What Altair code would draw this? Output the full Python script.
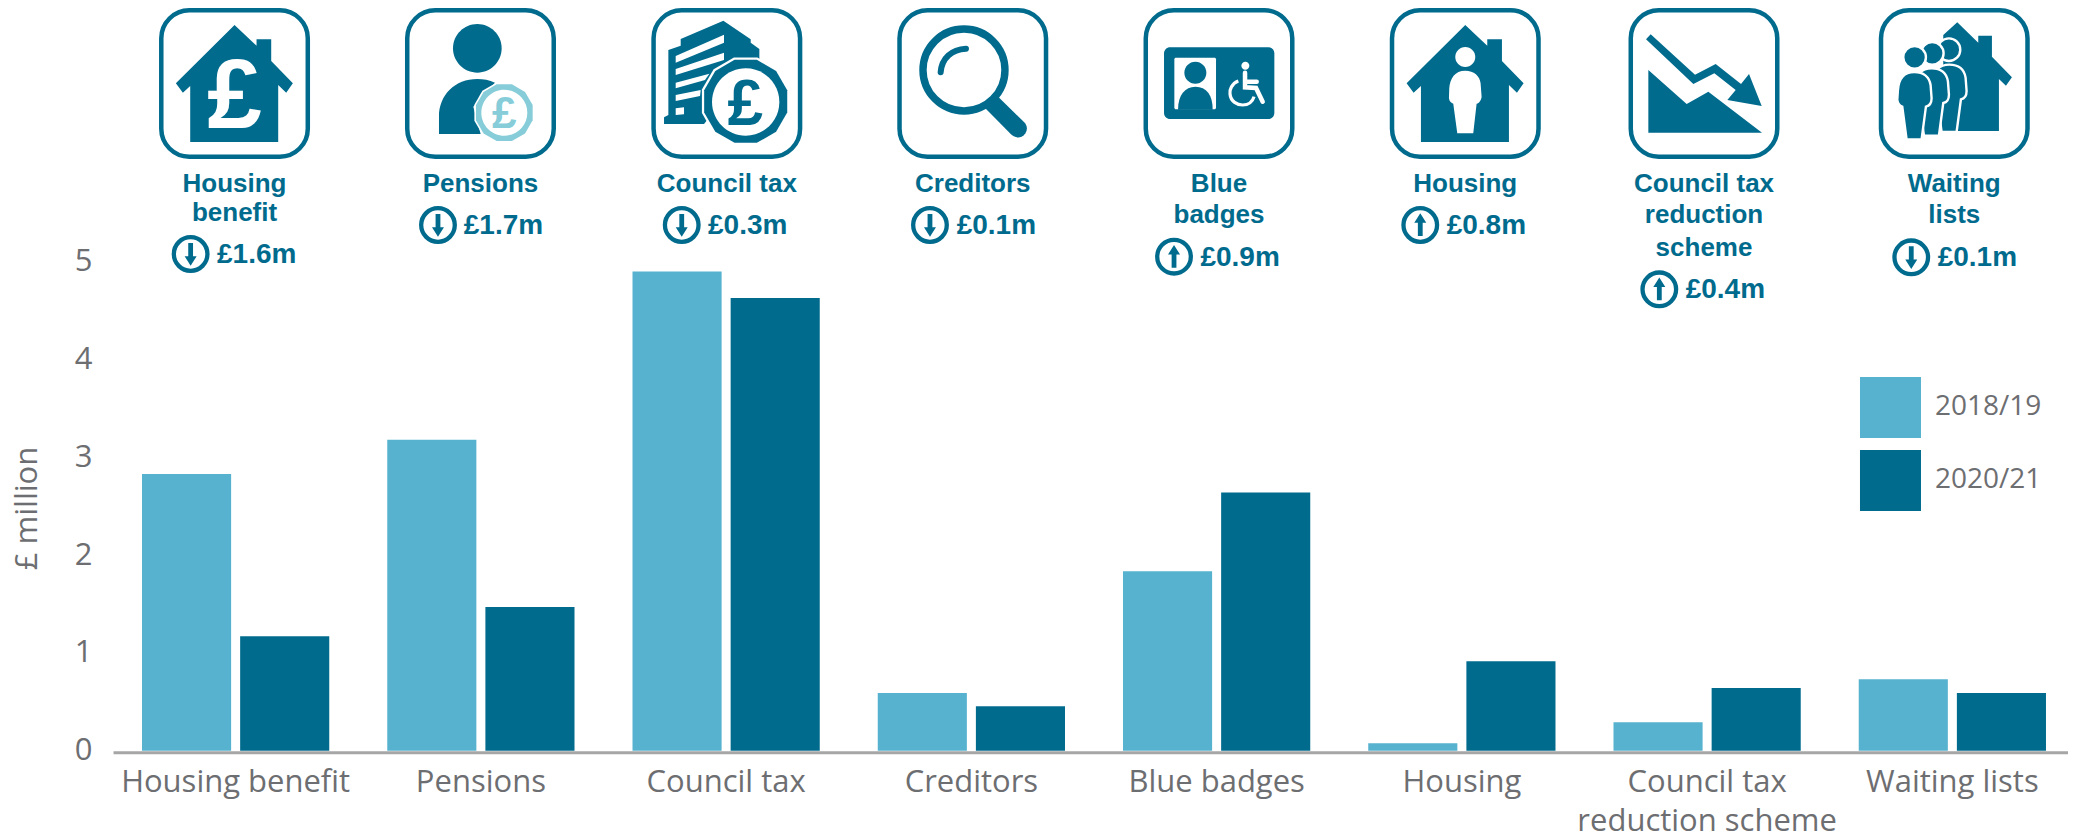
import re
import math
import altair as alt
import pandas as pd

categories = ["Housing benefit", "Pensions", "Council tax", "Creditors", "Blue badges",
              "Housing", "Council tax reduction scheme", "Waiting lists"]
values_2018 = [2.83, 3.18, 4.90, 0.59, 1.835, 0.077, 0.29, 0.73]
values_2020 = [1.17, 1.47, 4.63, 0.455, 2.64, 0.915, 0.64, 0.59]
years = ["2018/19", "2020/21"]
header_lines = [["Housing", "benefit"], ["Pensions"], ["Council tax"], ["Creditors"], ["Blue", "badges"],
                ["Housing"], ["Council tax", "reduction", "scheme"], ["Waiting", "lists"]]
changes = ["£1.6m", "£1.7m", "£0.3m", "£0.1m", "£0.9m", "£0.8m", "£0.4m", "£0.1m"]
directions = ["down", "down", "down", "down", "up", "up", "up", "down"]

LIGHT = "#56B2CE"
DARK = "#016B8E"
COIN = "#86CDD9"
GREY = "#6D6E71"
AXIS = "#A6A6A6"
FONT = "Open Sans"
BOLD = "Liberation Sans"

icon_dx = [-1.1, -0.4, 0.7, 1.4, 2.4, 3.4, -3.1, 1.9]
ICON_Y = 75.5
line_y = [[184.5, 213], [184.5], [184.5], [184.5], [184.5, 215.3], [184.5], [184.5, 215.3, 248.3], [184.5, 215.3]]
row_y = [246, 217, 217, 217, 248.7, 217, 281.3, 249.3]
circle_dx = [-45.0, -42.9, -44.4, -41.4, -42.6, -41.6, -47.8, -41.1]
text_dx = [-18.6, -17.1, -18.1, -14.7, -16.2, -15.2, -21.4, -14.7]

x_scale = alt.Scale(type="band", domain=categories, range=[0, 1962], paddingInner=0.2365, paddingOuter=0.11825)
x_axis = alt.Axis(
    labelExpr="datum.label == 'Council tax reduction scheme' ? ['Council tax', 'reduction scheme'] : datum.label",
    labelAngle=0, labelFont=FONT, labelFontSize=31, labelColor=GREY, labelPadding=15, labelLineHeight=39,
    labelLimit=400, tickSize=0, domainColor=AXIS, domainWidth=3, offset=1.5, grid=False, labelFontWeight="normal",
    title=None)


def xenc():
    return alt.X("cat:N", scale=x_scale, axis=x_axis, title=None)


def frame(cat):
    return alt.Chart(pd.DataFrame({"cat": [cat]}))


def shape(cat, path, y, dx, fill=None, stroke=None, width=0, cap=None):
    kw = dict(shape=path, size=4, xOffset=dx, opacity=1)
    if fill:
        kw.update(filled=True, fill=fill)
    else:
        kw.update(filled=False, fill="transparent")
    if stroke:
        kw.update(stroke=stroke, strokeWidth=width)
    else:
        kw.update(strokeWidth=0)
    if cap:
        kw.update(strokeCap=cap)
    return frame(cat).mark_point(**kw).encode(x=xenc(), y=alt.value(y))


def label(cat, text, y, dx, size, color=DARK, font=BOLD, align="center", weight="bold"):
    return frame(cat).mark_text(text=text, font=font, fontSize=size, fontWeight=weight, fill=color,
                                align=align, baseline="alphabetic", dx=dx).encode(x=xenc(), y=alt.value(y))


def rel(path, cx, cy=250.5):
    i = 0

    def sub(m):
        nonlocal i
        v = float(m.group(0))
        v = (v - (cx if i % 2 == 0 else cy)) / 3
        i += 1
        return f"{v:.2f}"
    return re.sub(r"-?\d+\.?\d*", sub, path)


def circ(cx, cy, r, ry=None):
    ry = ry or r
    k = 0.5523
    return (f"M{cx-r},{cy} C{cx-r},{cy-k*ry} {cx-k*r},{cy-ry} {cx},{cy-ry} "
            f"C{cx+k*r},{cy-ry} {cx+r},{cy-k*ry} {cx+r},{cy} "
            f"C{cx+r},{cy+k*ry} {cx+k*r},{cy+ry} {cx},{cy+ry} "
            f"C{cx-k*r},{cy+ry} {cx-r},{cy+k*ry} {cx-r},{cy} Z")


def ngon(cx, cy, r, n=12):
    pts = [(cx + r * math.cos(2 * math.pi * (j + .5) / n), cy + r * math.sin(2 * math.pi * (j + .5) / n)) for j in range(n)]
    return "M" + " L".join(f"{a:.1f},{b:.1f}" for a, b in pts) + " Z"


R, C = 73.25, 28
BOX = (f"M{-R+C},{-R} L{R-C},{-R} C{R-C*.45},{-R} {R},{-R+C*.45} {R},{-R+C} L{R},{R-C} "
       f"C{R},{R-C*.45} {R-C*.45},{R} {R-C},{R} L{-R+C},{R} C{-R+C*.45},{R} {-R},{R-C*.45} {-R},{R-C} "
       f"L{-R},{-R+C} C{-R},{-R+C*.45} {-R+C*.45},{-R} {-R+C},{-R} Z")

HOUSE = rel("M286,75 L352,137 L352,118 L396,118 L396,183 L461,250 L441,278 L417,255 L417,426 L153,426 L153,258 L131,278 L110,250 Z", 286)

ARROW_UP = "M0,-11.7 L6,-2.3 L2.4,-2.3 L2.4,11 L-2.4,11 L-2.4,-2.3 L-6,-2.3 Z"
ARROW_DOWN = "M0,11.7 L6,2.3 L2.4,2.3 L2.4,-11 L-2.4,-11 L-2.4,2.3 L-6,2.3 Z"
RING = circ(0, 0, 16.8)


def person(dx, dy):
    p = ("M343,216 C310,216 296,240 294,270 L292,300 C294,312 300,318 307,320 L320,418 L365,418 L378,320 "
         "C388,318 395,310 395,295 L392,255 C388,230 370,216 343,216 Z")
    nums = iter(range(10000))

    def sub(m):
        return str(float(m.group(0)) + (dx if next(nums) % 2 == 0 else dy))
    return re.sub(r"\d+", sub, p)


layers = []

df = pd.DataFrame({
    "cat": categories * 2,
    "year": [years[0]] * 8 + [years[1]] * 8,
    "value": values_2018 + values_2020,
})

bars = alt.Chart(df).mark_bar().encode(
    x=xenc(),
    xOffset=alt.XOffset("year:N", scale=alt.Scale(domain=years, paddingInner=0.092, paddingOuter=0)),
    y=alt.Y("value:Q", scale=alt.Scale(domain=[0, 742.7 / 97.8], nice=False), title="£ million", axis=alt.Axis(
        values=[0, 1, 2, 3, 4, 5], labelFont=FONT, labelFontSize=31, labelColor=GREY, labelPadding=21, labelOffset=0,
        tickSize=0, domain=False, grid=False, titleFont=FONT, titleFontSize=31, titleColor=GREY, titleFontWeight="normal",
        titleAngle=270, titleX=-77, titleY=500, titleAlign="center", titleBaseline="alphabetic")),
    color=alt.Color("year:N", scale=alt.Scale(domain=years, range=[LIGHT, DARK]), legend=alt.Legend(
        orient="none", legendX=1747, legendY=369, title=None, symbolType="square", symbolSize=3721,
        symbolStrokeWidth=0, labelFont=FONT, labelFontSize=28, labelColor=GREY, labelOffset=14, rowPadding=12)),
)
layers.append(bars)

# icon frames, headings, change rows
for i, cat in enumerate(categories):
    d = icon_dx[i]
    layers.append(shape(cat, BOX, ICON_Y, d, stroke=DARK, width=4.5))
    for text, y in zip(header_lines[i], line_y[i]):
        layers.append(label(cat, text, y, d, 26))
    layers.append(shape(cat, RING, row_y[i], circle_dx[i], stroke=DARK, width=4.3))
    layers.append(shape(cat, ARROW_UP if directions[i] == "up" else ARROW_DOWN, row_y[i], circle_dx[i], fill=DARK))
    layers.append(label(cat, changes[i], row_y[i] + 9, text_dx[i], 28, align="left"))

# Housing benefit
c, d = categories[0], icon_dx[0]
layers.append(shape(c, HOUSE, ICON_Y, d, fill=DARK))
layers.append(label(c, "£", 120, d, 98, color="white"))

# Pensions
c, d = categories[1], icon_dx[1]
cx = 271.5
layers.append(shape(c, rel(circ(262, 145, 73), cx), ICON_Y, d, fill=DARK))
layers.append(shape(c, rel("M147,402 L147,350 C147,285 195,237 262,237 C280,237 298,240 315,248 L250,320 L272,402 Z", cx), ICON_Y, d, fill=DARK))
layers.append(shape(c, rel(ngon(343, 338, 93), cx), ICON_Y, d, fill="white"))
layers.append(shape(c, rel(ngon(343, 338, 88), cx), ICON_Y, d, fill=COIN))
layers.append(shape(c, rel(circ(343, 338, 69), cx), ICON_Y, d, fill="white"))
layers.append(label(c, "£", 120.5, d + 23.8, 44, color=COIN))

# Council tax
c, d = categories[2], icon_dx[2]
cx = 1010.4
layers.append(shape(c, rel("M835,150 L872,137 L872,117 L1000,62 L1082,118 L1082,128 L1108,147 L1108,200 L1000,300 L942,372 L822,372 L822,352 L835,345 Z", cx), ICON_Y, d, fill=DARK))
for p in ["M857,168 L1002,104 L1002,128 L857,188 Z", "M857,207 L1002,158 L1002,180 L857,225 Z",
          "M857,248 L958,221 L945,240 L857,265 Z", "M857,285 L932,270 L930,288 L857,303 Z",
          "M857,325 L882,322 L882,343 L857,345 Z"]:
    layers.append(shape(c, rel(p, cx), ICON_Y, d, fill="white"))
layers.append(shape(c, rel(ngon(1067, 304, 136), cx), ICON_Y, d, fill="white"))
layers.append(shape(c, rel(ngon(1067, 304, 129), cx), ICON_Y, d, fill=DARK))
layers.append(shape(c, rel(circ(1067, 306, 101), cx), ICON_Y, d, fill="white"))
layers.append(label(c, "£", 117, d + 18.5, 64, color=DARK))

# Creditors
c, d = categories[3], icon_dx[3]
cx = 278.4
layers.append(shape(c, rel(circ(252, 210, 123), cx), ICON_Y, d, stroke=DARK, width=7.4))
layers.append(shape(c, rel("M182,217 C185,175 215,148 258,146", cx), ICON_Y, d, stroke=DARK, width=6, cap="round"))
layers.append(shape(c, rel("M356,292 L432,366 C448,382 440,402 425,410 C412,416 400,410 390,400 L316,325 Z", cx), ICON_Y, d, fill=DARK))

# Blue badges
c, d = categories[4], icon_dx[4]
cx = 1017
layers.append(shape(c, rel("M870,142 L1165,142 C1175,142 1183,150 1183,160 L1183,339 C1183,349 1175,357 1165,357 L870,357 C860,357 852,349 852,339 L852,160 C852,150 860,142 870,142 Z", cx), ICON_Y, d, fill=DARK))
layers.append(shape(c, rel("M888,173 L1003,173 C1006,173 1008,175 1008,178 L1008,322 C1008,326 1006,328 1003,328 L888,328 C885,328 883,326 883,322 L883,178 C883,175 885,173 888,173 Z", cx), ICON_Y, d, fill="white"))
layers.append(shape(c, rel(circ(946, 218, 33), cx), ICON_Y, d, fill=DARK))
layers.append(shape(c, rel("M894,329 C894,285 915,260 946,260 C980,260 998,285 998,329 Z", cx), ICON_Y, d, fill=DARK))
layers.append(shape(c, rel(circ(1096, 197, 12), cx), ICON_Y, d, fill="white"))
layers.append(shape(c, rel("M1095,218 L1095,262 L1128,264 L1148,305 M1095,245 L1130,245", cx), ICON_Y, d, stroke="white", width=4.5, cap="round"))
layers.append(shape(c, rel("M1075,243 C1055,250 1048,270 1050,282 C1052,305 1072,315 1088,315 C1105,315 1118,305 1122,290", cx), ICON_Y, d, stroke="white", width=3.2))

# Housing
c, d = categories[5], icon_dx[5]
cx = 286
layers.append(shape(c, HOUSE, ICON_Y, d, fill=DARK))
layers.append(shape(c, rel(circ(286, 171, 30), cx), ICON_Y, d, fill="white"))
layers.append(shape(c, rel("M286,212 C255,212 240,235 238,265 L237,295 C238,305 245,310 250,311 L262,400 L310,400 L320,311 C328,310 334,300 335,290 L332,250 C330,228 312,212 286,212 Z", cx), ICON_Y, d, fill="white"))

# Council tax reduction scheme
c, d = categories[6], icon_dx[6]
cx = 1002
layers.append(shape(c, rel("M835,210 L950,312 L1015,275 L1176,398 L835,398 Z", cx), ICON_Y, d, fill=DARK))
layers.append(shape(c, rel("M842,103 L975,224 L1037,192 L1113,252 L1137,222 L1175,318 L1072,300 L1097,270 L1033,220 L970,252 L828,118 Z", cx), ICON_Y, d, fill=DARK))

# Waiting lists
c, d = categories[7], icon_dx[7]
cx = 463
layers.append(shape(c, rel("M472,67 L535,128 L535,107 L576,107 L576,170 L636,232 L618,257 L597,237 L597,393 L430,393 L430,105 Z", cx), ICON_Y, d, fill=DARK))
for (sx, sy, hx, hy) in [(105, -22, 447, 149), (52, -11, 397, 160), (0, 0, 344, 172)]:
    layers.append(shape(c, rel(circ(hx, hy, 34), cx), ICON_Y, d, fill=DARK, stroke="white", width=2.4))
    layers.append(shape(c, rel(person(sx, sy), cx), ICON_Y, d, fill=DARK, stroke="white", width=2.4))

chart = alt.layer(*layers).properties(
    width=1955, height=742.7,
    padding={"left": 105, "top": 0, "right": 0, "bottom": 83},
    autosize=alt.AutoSizeParams(type="none"),
    background="white",
).configure_view(stroke=None).configure_axis(grid=False)

chart.save("out.html", embed_options={"renderer": "svg", "actions": False})
